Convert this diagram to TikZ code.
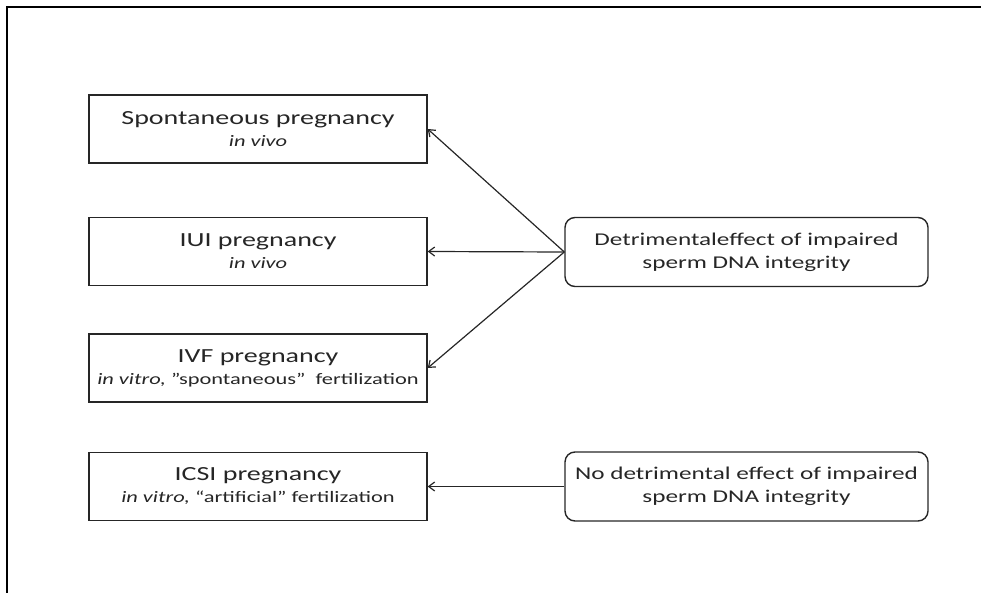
\documentclass[tikz,border=0pt]{standalone}
\usepackage{fontspec}
\setmainfont{Carlito}[FakeStretch=1.4]
\usetikzlibrary{arrows.meta}
\tikzset{
	pregbox/.style={draw=black!85, line width=1.4pt, minimum width=338pt, minimum height=68pt,
		align=center, inner sep=0pt, text=black!85, font=\fontsize{20}{22}\selectfont},
	effectbox/.style={pregbox, rounded corners=10pt, minimum width=363pt, minimum height=69pt,
		font=\fontsize{18}{23}\selectfont},
	effectarrow/.style={draw=black!85, line width=1.2pt, -{Straight Barb[length=6pt,width=9pt]}},
}
\def\subline#1{{\fontsize{16}{19}\selectfont #1}}

\begin{document}
\begin{tikzpicture}[x=1pt, y=-1pt]
			%%%%% START %%%%%
			
			\useasboundingbox (0, 0) rectangle (981, 593);
			\draw[line width=2pt] (981, 7.5) -- (7, 7.5) -- (7, 593);
			
			\node[pregbox] (spont) at (258, 129) {Spontaneous pregnancy\\\subline{\itshape in vivo}};
			\node[pregbox] (iui) at (258, 251.5) {IUI pregnancy\\\subline{\itshape in vivo}};
			\node[pregbox] (ivf) at (258, 368) {IVF pregnancy\\\subline{\textit{in vitro,} \char"22 spontaneous\char"22\ \ fertilization}};
			\node[pregbox] (icsi) at (258, 486.5) {ICSI pregnancy\\\subline{\textit{in vitro,} “artificial” fertilization}};
			
			\node[effectbox] (harm) at (746.5, 252) {Detrimentaleffect of impaired\\sperm DNA integrity};
			\node[effectbox] (noharm) at (746.5, 486.5) {No detrimental effect of impaired\\sperm DNA integrity};
			
			\draw[effectarrow] (harm.west) -- (spont.east);
			\draw[effectarrow] (harm.west) -- (iui.east);
			\draw[effectarrow] (harm.west) -- (ivf.east);
			\draw[effectarrow] (noharm.west) -- (icsi.east);
			
			%%%%% END %%%%%
\end{tikzpicture}
\end{document}
